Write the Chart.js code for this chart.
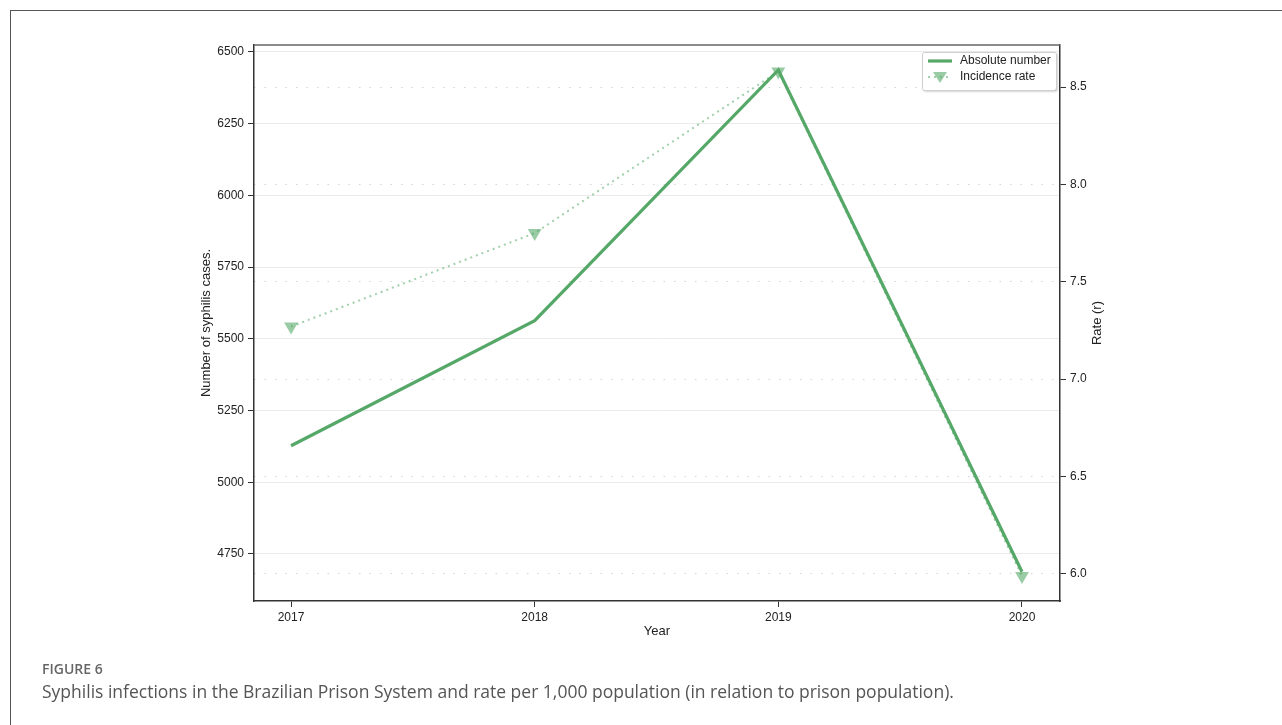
<!DOCTYPE html>
<html>
<head>
<meta charset="utf-8">
<script src="https://cdn.jsdelivr.net/npm/chart.js@4/dist/chart.umd.min.js"></script>
<style>
  html, body { margin: 0; padding: 0; background: #fff; }
  body { width: 1282px; height: 725px; position: relative; overflow: hidden; }
  #frame { position: absolute; left: 10px; top: 10px; right: -5px; bottom: -5px;
           border-top: 1.5px solid #555; border-left: 1.5px solid #555; }
  #wrap { position: absolute; left: 0; top: 0; width: 1282px; height: 725px; }
  #fig { position: absolute; left: 42px; top: 659px; font-family: "Open Sans", sans-serif;
         font-size: 14px; font-weight: 600; color: #666; }
  #cap { position: absolute; left: 42px; top: 679px; font-family: "Open Sans", sans-serif;
         font-size: 17.5px; color: #555; white-space: nowrap; }
</style>
</head>
<body>
<div id="frame"></div>
<div id="wrap"><canvas id="c" width="1282" height="725"></canvas></div>
<div id="fig">FIGURE 6</div>
<div id="cap">Syphilis infections in the Brazilian Prison System and rate per 1,000 population (in relation to prison population).</div>
<script>
const years = [2017, 2018, 2019, 2020];
const absoluteNumber = [5127, 5563, 6437, 4688];
const incidenceRate = [7.27, 7.75, 8.58, 5.99];
const leftTicks = [4750, 5000, 5250, 5500, 5750, 6000, 6250, 6500];
const rightTicks = [6.0, 6.5, 7.0, 7.5, 8.0, 8.5];

const GREEN = '#55a868';
const GREEN_LIGHT = 'rgba(85,168,104,0.55)';
const FAMILY = '"Liberation Sans", Arial, sans-serif';
const TICK_FONT = { family: FAMILY, size: 12 };
const TITLE_FONT = { family: FAMILY, size: 13 };

const legendPlugin = {
  id: 'boxLegend',
  afterDraw(chart) {
    const ctx = chart.ctx;
    const x = 922, y = 52, w = 134, h = 38;
    ctx.save();
    ctx.shadowColor = 'rgba(0,0,0,0.25)';
    ctx.shadowOffsetX = 1.5; ctx.shadowOffsetY = 1.5; ctx.shadowBlur = 2;
    ctx.fillStyle = '#fff';
    ctx.beginPath(); ctx.roundRect(x, y, w, h, 2); ctx.fill();
    ctx.shadowColor = 'transparent';
    ctx.strokeStyle = '#cfcfcf'; ctx.lineWidth = 1;
    ctx.beginPath(); ctx.roundRect(x + 0.5, y + 0.5, w, h, 2); ctx.stroke();
    const ds = chart.data.datasets;
    ctx.strokeStyle = ds[0].borderColor; ctx.lineWidth = ds[0].borderWidth;
    ctx.beginPath(); ctx.moveTo(928, 61); ctx.lineTo(952, 61); ctx.stroke();
    ctx.strokeStyle = ds[1].borderColor; ctx.lineWidth = ds[1].borderWidth;
    ctx.setLineDash(ds[1].borderDash);
    ctx.beginPath(); ctx.moveTo(928, 77); ctx.lineTo(952, 77); ctx.stroke();
    ctx.setLineDash([]);
    ctx.fillStyle = ds[1].pointBackgroundColor;
    ctx.beginPath(); ctx.moveTo(933, 72); ctx.lineTo(947, 72); ctx.lineTo(940, 83); ctx.closePath(); ctx.fill();
    ctx.fillStyle = '#222';
    ctx.font = '12px ' + FAMILY;
    ctx.textBaseline = 'middle';
    ctx.fillText(ds[0].label, 960, 61);
    ctx.fillText(ds[1].label, 960, 77);
    ctx.restore();
  }
};

const extras = {
  id: 'extras',
  afterDatasetsDraw(chart) {
    const a = chart.chartArea, ctx = chart.ctx;
    ctx.save();
    ctx.strokeStyle = '#666'; ctx.lineWidth = 1.5;
    ctx.beginPath(); ctx.moveTo(a.left, a.top); ctx.lineTo(a.right, a.top); ctx.stroke();
    ctx.restore();
  },
  afterDraw(chart) {
    const a = chart.chartArea, ctx = chart.ctx;
    ctx.save();
    ctx.translate(1097, (a.top + a.bottom) / 2);
    ctx.rotate(-Math.PI / 2);
    ctx.fillStyle = '#222';
    ctx.font = '13px ' + FAMILY;
    ctx.textAlign = 'center';
    ctx.textBaseline = 'middle';
    ctx.fillText('Rate (r)', 0, 0);
    ctx.restore();
  }
};

new Chart(document.getElementById('c'), {
  type: 'line',
  data: {
    datasets: [
      {
        label: 'Absolute number',
        data: years.map((x, i) => ({ x, y: absoluteNumber[i] })),
        yAxisID: 'y',
        borderColor: GREEN,
        borderWidth: 3.2,
        pointRadius: 0,
        tension: 0,
        order: 1
      },
      {
        label: 'Incidence rate',
        data: years.map((x, i) => ({ x, y: incidenceRate[i] })),
        yAxisID: 'y1',
        borderColor: GREEN_LIGHT,
        borderWidth: 2,
        borderDash: [2, 4],
        pointStyle: 'triangle',
        rotation: 180,
        pointRadius: 8,
        pointBackgroundColor: 'rgba(85,168,104,0.6)',
        pointBorderColor: 'rgba(85,168,104,0.0)',
        pointBorderWidth: 0,
        tension: 0,
        order: 0
      }
    ]
  },
  options: {
    responsive: false,
    animation: false,
    layout: { padding: { left: 195, right: 174, top: 45, bottom: 82 } },
    plugins: { legend: { display: false }, tooltip: { enabled: false } },
    scales: {
      x: {
        type: 'linear',
        min: 2016.848, max: 2020.156,
        afterBuildTicks: s => { s.ticks = years.map(v => ({ value: v })); },
        afterFit: s => { s.height = 42; },
        ticks: { callback: v => String(v), font: TICK_FONT, color: '#222', padding: 3, maxRotation: 0 },
        grid: { drawOnChartArea: false, tickLength: 6, tickColor: '#333' },
        border: { color: '#333', width: 1.5 },
        title: { display: true, text: 'Year', font: TITLE_FONT, color: '#222' }
      },
      y: {
        position: 'left',
        min: 4586, max: 6524,
        afterBuildTicks: s => { s.ticks = leftTicks.map(v => ({ value: v })); },
        afterFit: s => { s.width = 59; },
        ticks: { callback: v => String(v), font: TICK_FONT, color: '#222', padding: 4 },
        grid: { color: '#ebebeb', lineWidth: 1, tickLength: 6, tickColor: '#333' },
        border: { color: '#333', width: 1.5 },
        title: { display: true, text: 'Number of syphilis cases.', font: TITLE_FONT, color: '#222' }
      },
      y1: {
        position: 'right',
        min: 5.861, max: 8.716,
        afterBuildTicks: s => { s.ticks = rightTicks.map(v => ({ value: v })); },
        afterFit: s => { s.width = 48; },
        ticks: { callback: v => v.toFixed(1), font: TICK_FONT, color: '#222', padding: 4 },
        grid: { color: '#d4d4d4', lineWidth: 1, tickLength: 6, tickColor: '#333' },
        border: { color: '#333', width: 1.5, dash: [1.5, 9] },
        title: { display: false }
      }
    }
  },
  plugins: [legendPlugin, extras]
});
</script>
</body>
</html>
